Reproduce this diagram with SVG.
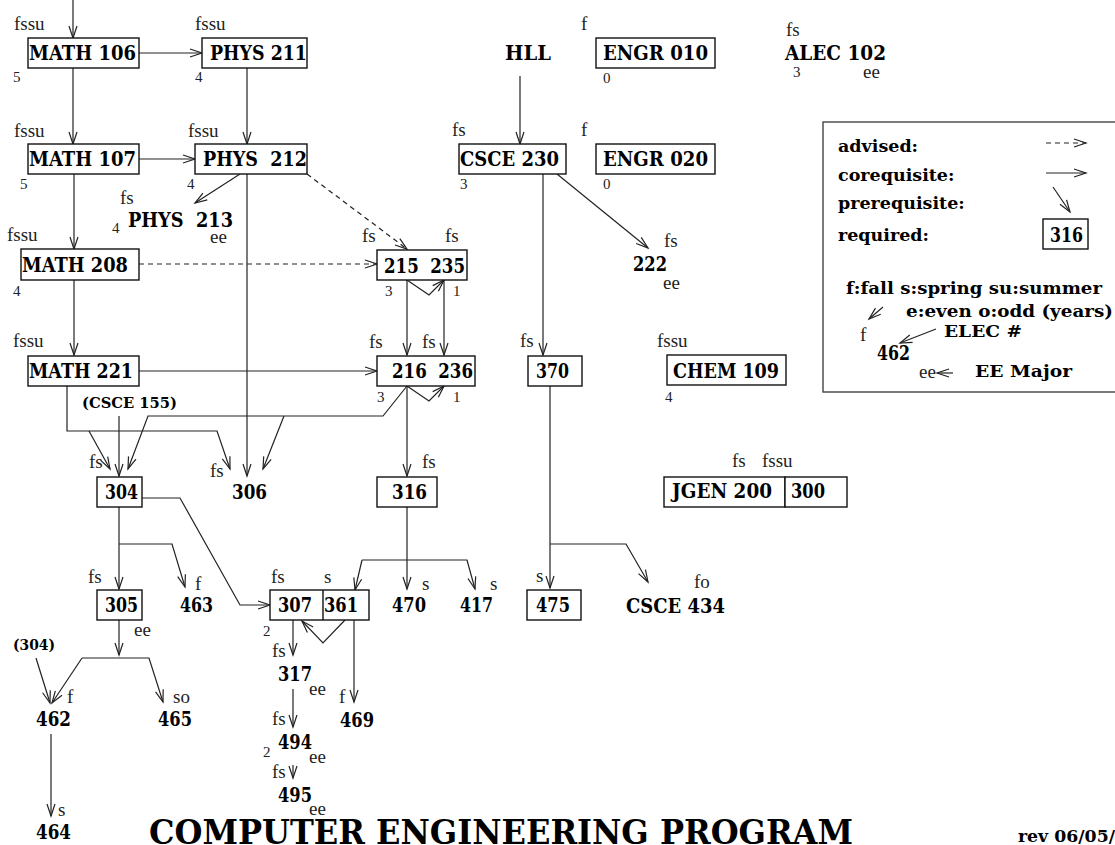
<svg xmlns="http://www.w3.org/2000/svg" width="1115" height="845" viewBox="0 0 1115 845">
<style>
.box{fill:#fff;stroke:#111;stroke-width:1.4}
.lbl{font-family:"DejaVu Serif","Liberation Serif",serif;font-weight:bold;font-size:19.5px;fill:#000;white-space:pre}
.sb{font-family:"DejaVu Serif","Liberation Serif",serif;font-weight:bold;font-size:15px;fill:#000}
.sm{font-family:"Liberation Serif","Times New Roman",serif;font-size:19px;fill:#222}
.num{font-family:"Liberation Serif","Times New Roman",serif;font-size:15px;fill:#222}
.lg{font-family:"DejaVu Serif","Liberation Serif",serif;font-weight:bold;font-size:17.5px;fill:#000}
.ttl{font-family:"DejaVu Serif","Liberation Serif",serif;font-weight:bold;font-size:33px;fill:#000}
.ln{fill:none;stroke:#222;stroke-width:1.2}
.arr{marker-end:url(#ah)}
.dash{stroke-dasharray:5 4}
</style>
<defs>
<marker id="ah" markerUnits="userSpaceOnUse" markerWidth="14" markerHeight="10" refX="12" refY="5" orient="auto" overflow="visible">
<path d="M0,1 L12,5 L0,9" fill="none" stroke="#222" stroke-width="1.2"/>
</marker>
</defs>
<rect width="1115" height="845" fill="#fff"/>

<g id="connectors">
<path class="ln arr" d="M73,0 L73,38"/>
<path class="ln arr" d="M139,53 L202,53"/>
<path class="ln arr" d="M73,68 L73,144"/>
<path class="ln arr" d="M247,68 L247,144"/>
<path class="ln arr" d="M139,159 L195,159"/>
<path class="ln arr" d="M74,174 L74,249"/>
<path class="ln arr" d="M240,174 L195,203"/>
<path class="ln arr" d="M247,174 L247,476"/>
<path class="ln arr dash" d="M307,174 L407,249"/>
<path class="ln arr dash" d="M139,264 L377,264"/>
<path class="ln arr" d="M520,76 L520,144"/>
<path class="ln arr" d="M557,174 L648,248"/>
<path class="ln arr" d="M543,174 L543,355"/>
<path class="ln arr" d="M407,280 L407,355"/>
<path class="ln arr" d="M444,280 L444,355"/>
<path class="ln arr" d="M407,280 L429,295 L444,280"/>
<path class="ln arr" d="M74,280 L74,355"/>
<path class="ln arr" d="M139,371 L377,371"/>
<path class="ln arr" d="M407,386 L429,401 L444,386"/>
<path class="ln arr" d="M407,386 L407,476"/>
<path class="ln arr" d="M407,386 L383,416 L148,416 L128,469"/>
<path class="ln arr" d="M284,416 L263,469"/>
<path class="ln arr" d="M67,386 L67,431 L217,431 L230,469"/>
<path class="ln arr" d="M89,431 L110,469"/>
<path class="ln arr" d="M119,416 L119,476"/>
<path class="ln arr" d="M142,498 L180,498 L240,605 L270,605"/>
<path class="ln arr" d="M119,507 L119,589"/>
<path class="ln arr" d="M119,544 L172,544 L185,587"/>
<path class="ln arr" d="M119,620 L119,655"/>
<path class="ln arr" d="M82,658 L149,658 L163,702"/>
<path class="ln arr" d="M82,658 L52,703"/>
<path class="ln arr" d="M36,658 L50,703"/>
<path class="ln arr" d="M51,734 L51,816"/>
<path class="ln arr" d="M293,620 L293,655"/>
<path class="ln arr" d="M345,620 L323,643 L302,621"/>
<path class="ln arr" d="M354,620 L354,702"/>
<path class="ln arr" d="M293,689 L293,727"/>
<path class="ln arr" d="M293,765 L293,778"/>
<path class="ln arr" d="M407,507 L407,589"/>
<path class="ln arr" d="M362,560 L467,560 L475,589"/>
<path class="ln arr" d="M362,560 L355,590"/>
<path class="ln arr" d="M550,386 L550,588"/>
<path class="ln arr" d="M550,544 L626,544 L648,582"/>
</g>

<g id="math106"><text class="sm" x="14" y="30">fssu</text><rect class="box" x="28" y="38" width="111" height="30"/><text class="lbl" x="29" y="60" textLength="107" lengthAdjust="spacingAndGlyphs">MATH 106</text><text class="num" x="13" y="82">5</text></g>
<g id="phys211"><text class="sm" x="195" y="30">fssu</text><rect class="box" x="202" y="38" width="105" height="30"/><text class="lbl" x="210" y="60" textLength="97" lengthAdjust="spacingAndGlyphs">PHYS 211</text><text class="num" x="195" y="82">4</text></g>
<g id="hll"><text class="lbl" x="505" y="60" textLength="46" lengthAdjust="spacingAndGlyphs">HLL</text></g>
<g id="engr010"><text class="sm" x="581" y="30">f</text><rect class="box" x="596" y="38" width="119" height="30"/><text class="lbl" x="603" y="60" textLength="105" lengthAdjust="spacingAndGlyphs">ENGR 010</text><text class="num" x="603" y="83">0</text></g>
<g id="alec102"><text class="sm" x="786" y="36">fs</text><text class="lbl" x="785" y="60" textLength="101" lengthAdjust="spacingAndGlyphs">ALEC 102</text><text class="num" x="793" y="77">3</text><text class="sm" x="863" y="78">ee</text></g>

<g id="math107"><text class="sm" x="14" y="137">fssu</text><rect class="box" x="28" y="144" width="111" height="30"/><text class="lbl" x="29" y="166" textLength="107" lengthAdjust="spacingAndGlyphs">MATH 107</text><text class="num" x="20" y="189">5</text></g>
<g id="phys212"><text class="sm" x="188" y="137">fssu</text><rect class="box" x="195" y="144" width="112" height="30"/><text class="lbl" x="203" y="166" textLength="104" lengthAdjust="spacingAndGlyphs">PHYS  212</text><text class="num" x="187" y="189">4</text></g>
<g id="phys213"><text class="sm" x="120" y="204">fs</text><text class="lbl" x="128" y="227" textLength="105" lengthAdjust="spacingAndGlyphs">PHYS  213</text><text class="num" x="112" y="233">4</text><text class="sm" x="210" y="243">ee</text></g>
<g id="csce230"><text class="sm" x="452" y="136">fs</text><rect class="box" x="459" y="144" width="107" height="30"/><text class="lbl" x="460" y="166" textLength="99" lengthAdjust="spacingAndGlyphs">CSCE 230</text><text class="num" x="460" y="189">3</text></g>
<g id="engr020"><text class="sm" x="581" y="136">f</text><rect class="box" x="596" y="144" width="119" height="30"/><text class="lbl" x="603" y="166" textLength="105" lengthAdjust="spacingAndGlyphs">ENGR 020</text><text class="num" x="603" y="189">0</text></g>

<g id="math208"><text class="sm" x="7" y="241">fssu</text><rect class="box" x="21" y="249" width="118" height="31"/><text class="lbl" x="22" y="272" textLength="106" lengthAdjust="spacingAndGlyphs">MATH 208</text><text class="num" x="13" y="296">4</text></g>
<g id="c215-235"><text class="sm" x="362" y="242">fs</text><text class="sm" x="445" y="242">fs</text><rect class="box" x="377" y="250" width="90" height="30"/><text class="lbl" x="384" y="273" textLength="81" lengthAdjust="spacingAndGlyphs">215  235</text><text class="num" x="385" y="296">3</text><text class="num" x="453" y="296">1</text></g>
<g id="c222"><text class="sm" x="664" y="247">fs</text><text class="lbl" x="633" y="271" textLength="34" lengthAdjust="spacingAndGlyphs">222</text><text class="sm" x="663" y="289">ee</text></g>

<g id="math221"><text class="sm" x="13" y="347">fssu</text><rect class="box" x="28" y="356" width="111" height="30"/><text class="lbl" x="29" y="378" textLength="104" lengthAdjust="spacingAndGlyphs">MATH 221</text></g>
<g id="c216-236"><text class="sm" x="369" y="348">fs</text><text class="sm" x="422" y="348">fs</text><rect class="box" x="377" y="356" width="98" height="30"/><text class="lbl" x="392" y="378" textLength="81" lengthAdjust="spacingAndGlyphs">216  236</text><text class="num" x="377" y="402">3</text><text class="num" x="453" y="402">1</text></g>
<g id="c370"><text class="sm" x="520" y="347">fs</text><rect class="box" x="528" y="356" width="54" height="30"/><text class="lbl" x="536" y="378" textLength="33" lengthAdjust="spacingAndGlyphs">370</text></g>
<g id="chem109"><text class="sm" x="657" y="347">fssu</text><rect class="box" x="667" y="355" width="119" height="30"/><text class="lbl" x="673" y="378" textLength="106" lengthAdjust="spacingAndGlyphs">CHEM 109</text><text class="num" x="665" y="402">4</text></g>

<g id="csce155"><text class="sb" x="82" y="408" textLength="95" lengthAdjust="spacingAndGlyphs">(CSCE 155)</text></g>
<g id="c304"><text class="sm" x="89" y="468">fs</text><rect class="box" x="97" y="477" width="45" height="30"/><text class="lbl" x="105" y="499" textLength="33" lengthAdjust="spacingAndGlyphs">304</text></g>
<g id="c306"><text class="sm" x="210" y="477">fs</text><text class="lbl" x="232" y="499" textLength="35" lengthAdjust="spacingAndGlyphs">306</text></g>
<g id="c316"><text class="sm" x="422" y="468">fs</text><rect class="box" x="377" y="477" width="60" height="30"/><text class="lbl" x="392" y="499" textLength="35" lengthAdjust="spacingAndGlyphs">316</text></g>
<g id="jgen200-300"><text class="sm" x="732" y="467">fs</text><text class="sm" x="762" y="467">fssu</text><rect class="box" x="664" y="477" width="121" height="30"/><rect class="box" x="785" y="477" width="62" height="30"/><text class="lbl" x="672" y="498" textLength="100" lengthAdjust="spacingAndGlyphs">JGEN 200</text><text class="lbl" x="791" y="498" textLength="34" lengthAdjust="spacingAndGlyphs">300</text></g>

<g id="c305"><text class="sm" x="88" y="583">fs</text><rect class="box" x="97" y="590" width="45" height="30"/><text class="lbl" x="105" y="612" textLength="33" lengthAdjust="spacingAndGlyphs">305</text><text class="sm" x="134" y="636">ee</text></g>
<g id="c463"><text class="sm" x="195" y="590">f</text><text class="lbl" x="180" y="612" textLength="33" lengthAdjust="spacingAndGlyphs">463</text></g>
<g id="c307-361"><text class="sm" x="271" y="583">fs</text><text class="sm" x="324" y="583">s</text><rect class="box" x="270" y="590" width="99" height="30"/><line x1="323" y1="590" x2="323" y2="620" stroke="#111" stroke-width="1.4"/><text class="lbl" x="278" y="612" textLength="34" lengthAdjust="spacingAndGlyphs">307</text><text class="lbl" x="324" y="612" textLength="34" lengthAdjust="spacingAndGlyphs">361</text><text class="num" x="263" y="636">2</text></g>
<g id="c470"><text class="sm" x="422" y="590">s</text><text class="lbl" x="392" y="612" textLength="34" lengthAdjust="spacingAndGlyphs">470</text></g>
<g id="c417"><text class="sm" x="490" y="590">s</text><text class="lbl" x="460" y="612" textLength="33" lengthAdjust="spacingAndGlyphs">417</text></g>
<g id="c475"><text class="sm" x="536" y="582">s</text><rect class="box" x="527" y="590" width="54" height="30"/><text class="lbl" x="536" y="612" textLength="34" lengthAdjust="spacingAndGlyphs">475</text></g>
<g id="csce434"><text class="sm" x="694" y="588">fo</text><text class="lbl" x="626" y="613" textLength="99" lengthAdjust="spacingAndGlyphs">CSCE 434</text></g>

<g id="ref304"><text class="sb" x="13" y="650" textLength="42" lengthAdjust="spacingAndGlyphs">(304)</text></g>
<g id="c462"><text class="sm" x="67" y="703">f</text><text class="lbl" x="36" y="726" textLength="35" lengthAdjust="spacingAndGlyphs">462</text></g>
<g id="c465"><text class="sm" x="173" y="703">so</text><text class="lbl" x="158" y="726" textLength="34" lengthAdjust="spacingAndGlyphs">465</text></g>
<g id="c317"><text class="sm" x="272" y="657">fs</text><text class="lbl" x="278" y="681" textLength="34" lengthAdjust="spacingAndGlyphs">317</text><text class="sm" x="309" y="695">ee</text></g>
<g id="c469"><text class="sm" x="339" y="703">f</text><text class="lbl" x="340" y="727" textLength="34" lengthAdjust="spacingAndGlyphs">469</text></g>
<g id="c494"><text class="sm" x="272" y="725">fs</text><text class="lbl" x="278" y="749" textLength="34" lengthAdjust="spacingAndGlyphs">494</text><text class="num" x="263" y="757">2</text><text class="sm" x="309" y="763">ee</text></g>
<g id="c495"><text class="sm" x="272" y="778">fs</text><text class="lbl" x="278" y="802" textLength="34" lengthAdjust="spacingAndGlyphs">495</text><text class="sm" x="309" y="815">ee</text></g>
<g id="c464"><text class="sm" x="58" y="816">s</text><text class="lbl" x="36" y="839" textLength="35" lengthAdjust="spacingAndGlyphs">464</text></g>

<g id="legend">
<rect x="823" y="122" width="300" height="270" fill="#fff" stroke="#444" stroke-width="1.4"/>
<text class="lg" x="838" y="152">advised:</text>
<text class="lg" x="838" y="181">corequisite:</text>
<text class="lg" x="838" y="209">prerequisite:</text>
<text class="lg" x="838" y="241">required:</text>
<path class="ln arr dash" d="M1046,143 L1086,143"/>
<path class="ln arr" d="M1046,173 L1086,173"/>
<path class="ln arr" d="M1053,187 L1070,212"/>
<rect class="box" x="1043" y="219" width="45" height="30"/>
<text class="lbl" x="1050" y="242" textLength="33" lengthAdjust="spacingAndGlyphs">316</text>
<text class="lg" x="846" y="294" textLength="256" lengthAdjust="spacingAndGlyphs">f:fall s:spring su:summer</text>
<text class="lg" x="906" y="317" textLength="207" lengthAdjust="spacingAndGlyphs">e:even o:odd (years)</text>
<path class="ln arr" d="M883,307 L869,319"/>
<text class="sm" x="860" y="341">f</text>
<text class="lg" x="944" y="337" textLength="78" lengthAdjust="spacingAndGlyphs">ELEC #</text>
<path class="ln arr" d="M936,329 L900,343"/>
<text class="lbl" x="877" y="360" textLength="33" lengthAdjust="spacingAndGlyphs">462</text>
<text class="sm" x="919" y="378">ee</text>
<path class="ln arr" d="M953,373 L937,373"/>
<text class="lg" x="975" y="377" textLength="97" lengthAdjust="spacingAndGlyphs">EE Major</text>
</g>

<g id="title">
<text class="ttl" x="149" y="844" textLength="704" lengthAdjust="spacingAndGlyphs">COMPUTER ENGINEERING PROGRAM</text>
<text class="lg" x="1018" y="842" textLength="97" lengthAdjust="spacingAndGlyphs">rev 06/05/</text>
</g>
</svg>
